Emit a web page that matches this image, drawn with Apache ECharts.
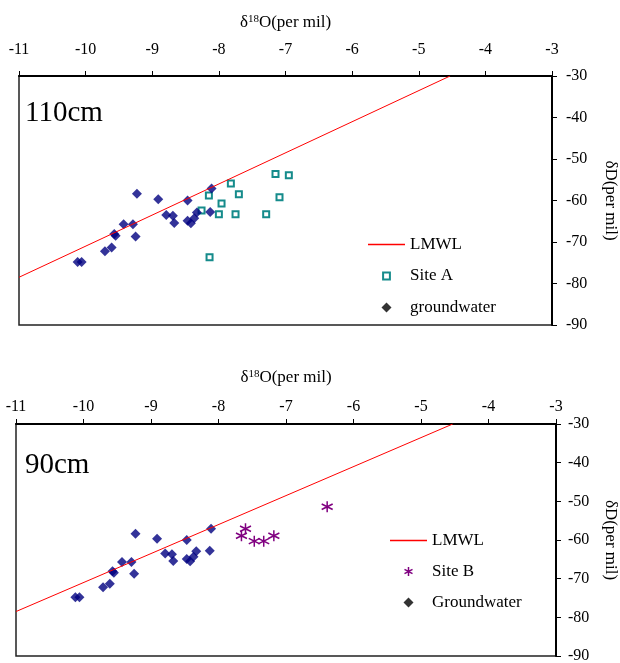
<!DOCTYPE html>
<html>
<head>
<meta charset="utf-8">
<script src="https://cdn.jsdelivr.net/npm/echarts@6/dist/echarts.min.js"></script>
<style>
  html, body { margin: 0; padding: 0; background: #fff; }
  #chart { width: 620px; height: 663px; }
</style>
</head>
<body>
<div id="chart"></div>
<script>
// ---- data ----
var gwX = [-9.23, -8.91, -8.47, -8.11, -8.13, -8.79, -8.69, -8.67, -8.47, -8.42, -8.37, -8.33, -9.43, -9.29, -9.57, -9.55, -9.25, -9.61, -9.71, -10.12, -10.06];
var gwY = [-58.4, -59.7, -60.0, -57.1, -62.8, -63.5, -63.7, -65.4, -64.9, -65.5, -64.3, -62.9, -65.7, -65.7, -68.1, -68.5, -68.7, -71.3, -72.2, -74.8, -74.8];
var siteAX = [-8.26, -8.15, -7.82, -7.70, -7.96, -8.00, -7.75, -7.29, -7.15, -6.95, -7.09, -8.14];
var siteAY = [-62.4, -58.8, -55.9, -58.5, -60.7, -63.3, -63.3, -63.3, -53.6, -53.9, -59.2, -73.7];
var siteBX = [-6.39, -7.60, -7.66, -7.47, -7.33, -7.18];
var siteBY = [-51.4, -57.1, -58.9, -60.3, -60.3, -58.9];
var lmwlX = [-11, -4.53];
var lmwlY = [-78.5, -30];
var panelLabels = ['110cm', '90cm'];
var yAxisName = 'δD(per mil)';

function pairs(xs, ys) { return xs.map(function (x, i) { return [x, ys[i]]; }); }

var FONT = '"Liberation Serif", "Times New Roman", serif';
var asterisk = 'path://M0,-10L0,10M-8.66,-5L8.66,5M-8.66,5L8.66,-5';
// legend icons (padded with moves so the visible mark is smaller than the icon box)
var lineIcon = 'path://M0,0L36,0L36,1.4L0,1.4Z';
var sqIcon = 'path://M0,0M10,10M1.6,1.6L8.4,1.6L8.4,8.4L1.6,8.4Z';
var diaIcon = 'path://M5,0L10,5L5,10L0,5Z';
var astIcon = 'path://M0,0M10,10M5,0.5L5,9.5M1,2.8L9,7.2M1,7.2L9,2.8';

function xAx(gi, nameGap, labelMargin) {
  return {
    gridIndex: gi, type: 'value', position: 'top', min: -11, max: -3, interval: 1,
    name: '{d|δ}{s|18}{d|O(per mil)}', nameLocation: 'middle', nameGap: nameGap,
    nameTextStyle: { rich: {
      d: { fontFamily: FONT, fontSize: 17, color: '#000' },
      s: { fontFamily: FONT, fontSize: 11, color: '#000', verticalAlign: 'top', padding: [0, 0, 7, 0] }
    } },
    axisLine: { show: true, lineStyle: { color: '#000', width: 2 } },
    axisTick: { show: true, inside: false, length: 5, lineStyle: { color: '#000', width: 1 } },
    axisLabel: { margin: labelMargin, fontFamily: FONT, fontSize: 16, color: '#000' },
    splitLine: { show: false }
  };
}
function yAx(gi, nameGap, labelMargin) {
  return {
    gridIndex: gi, type: 'value', position: 'right', min: -90, max: -30, interval: 10,
    name: yAxisName, nameLocation: 'middle', nameRotate: -90, nameGap: nameGap,
    nameTextStyle: { fontFamily: FONT, fontSize: 17, color: '#000' },
    axisLine: { show: true, lineStyle: { color: '#000', width: 2 } },
    axisTick: { show: true, inside: false, length: 5, lineStyle: { color: '#000', width: 1 } },
    axisLabel: { margin: labelMargin, fontFamily: FONT, fontSize: 16, color: '#000' },
    splitLine: { show: false }
  };
}

var gwStyle = { symbol: 'diamond', symbolSize: 10, itemStyle: { color: '#000080' } };
var legendText = { fontFamily: FONT, fontSize: 17, color: '#000' };
var redIcon = { color: '#ff0000', borderColor: '#ff0000', borderWidth: 0 };
var option = {
  animation: false,
  backgroundColor: '#fff',
  grid: [
    { left: 19, right: 68, top: 76, height: 249, outerBoundsMode: 'none', containLabel: false, show: true, borderColor: '#222', borderWidth: 1.5, backgroundColor: 'transparent' },
    { left: 16, right: 64, top: 424, height: 232, outerBoundsMode: 'none', containLabel: false, show: true, borderColor: '#222', borderWidth: 1.5, backgroundColor: 'transparent' }
  ],
  xAxis: [xAx(0, 44, 18), xAx(1, 37, 9)],
  yAxis: [yAx(0, 50, 14), yAx(1, 46, 12)],
  legend: [
    {
      orient: 'vertical', left: 368, top: 236, padding: 0, itemWidth: 37, itemHeight: 10, itemGap: 14.5,
      textStyle: legendText,
      data: [
        { name: 'LMWL', icon: lineIcon, itemStyle: redIcon, lineStyle: { color: '#ff0000' } },
        { name: 'Site A', icon: sqIcon, itemStyle: { color: '#fff', borderColor: '#158b8b', borderWidth: 2 } },
        { name: 'groundwater', icon: diaIcon, itemStyle: { color: '#000' } }
      ]
    },
    {
      orient: 'vertical', left: 390, top: 532, padding: 0, itemWidth: 37, itemHeight: 10, itemGap: 14,
      textStyle: legendText,
      data: [
        { name: 'LMWL', icon: lineIcon, itemStyle: redIcon, lineStyle: { color: '#ff0000' } },
        { name: 'Site B', icon: astIcon, itemStyle: { color: 'transparent', borderColor: '#800080', borderWidth: 1.5 } },
        { name: 'Groundwater', icon: diaIcon, itemStyle: { color: '#000' } }
      ]
    }
  ],
  graphic: [
    { type: 'text', left: 25, top: 99, style: { text: panelLabels[0], font: '29px ' + FONT, fill: '#000' } },
    { type: 'text', left: 25, top: 451, style: { text: panelLabels[1], font: '29px ' + FONT, fill: '#000' } }
  ],
  series: [
    { name: 'LMWL', type: 'line', xAxisIndex: 0, yAxisIndex: 0, data: pairs(lmwlX, lmwlY), showSymbol: false, symbol: 'none', lineStyle: { color: '#ff0000', width: 1 }, itemStyle: { color: '#ff0000' } },
    { name: 'Site A', type: 'scatter', xAxisIndex: 0, yAxisIndex: 0, data: pairs(siteAX, siteAY), symbol: 'rect', symbolSize: 6, itemStyle: { color: '#fff', borderColor: '#158b8b', borderWidth: 2, opacity: 1 } },
    Object.assign({ name: 'groundwater', type: 'scatter', xAxisIndex: 0, yAxisIndex: 0, data: pairs(gwX, gwY) }, gwStyle),
    { name: 'LMWL', type: 'line', xAxisIndex: 1, yAxisIndex: 1, data: pairs(lmwlX, lmwlY), showSymbol: false, symbol: 'none', lineStyle: { color: '#ff0000', width: 1 }, itemStyle: { color: '#ff0000' } },
    { name: 'Site B', type: 'scatter', xAxisIndex: 1, yAxisIndex: 1, data: pairs(siteBX, siteBY), symbol: asterisk, symbolSize: 11, itemStyle: { color: 'transparent', borderColor: '#800080', borderWidth: 1.5, opacity: 1 } },
    Object.assign({ name: 'Groundwater', type: 'scatter', xAxisIndex: 1, yAxisIndex: 1, data: pairs(gwX, gwY) }, gwStyle)
  ]
};
var chart = echarts.init(document.getElementById('chart'), null, { renderer: 'canvas' });
chart.setOption(option);
</script>
</body>
</html>
